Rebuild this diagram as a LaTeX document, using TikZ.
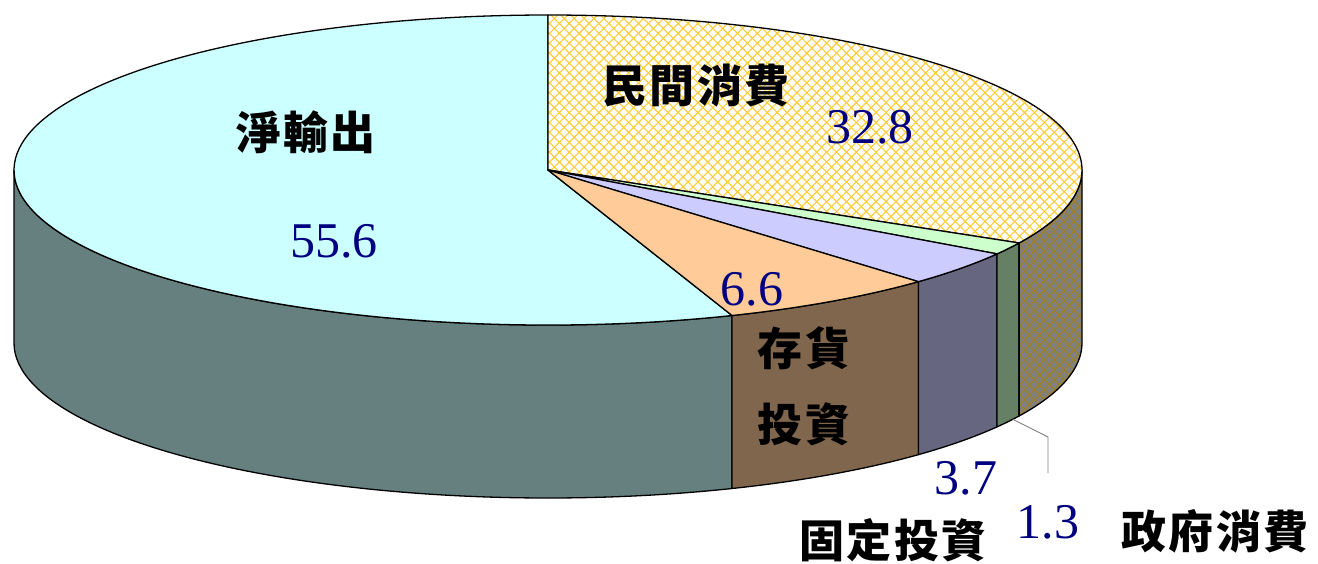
\documentclass[tikz,border=0pt]{standalone}
\usepackage{fontspec}
\setmainfont{Liberation Serif}
\newfontfamily\cjk{Noto Sans CJK TC}[LetterSpace=5]
\usetikzlibrary{patterns.meta}
\definecolor{topNet}{HTML}{CCFFFF}
\definecolor{sideNet}{HTML}{668080}
\definecolor{topInv}{HTML}{FFCC99}
\definecolor{sideInv}{HTML}{80664D}
\definecolor{topFix}{HTML}{CCCCFF}
\definecolor{sideFix}{HTML}{666680}
\definecolor{topGov}{HTML}{CCFFCC}
\definecolor{sideGov}{HTML}{668066}
\definecolor{hatchTop}{HTML}{FFCC33}
\definecolor{sidePriv}{HTML}{808080}
\definecolor{hatchSide}{HTML}{A08020}
\definecolor{numblue}{HTML}{000080}
\definecolor{leader}{HTML}{808080}
\tikzset{
  face/.style={draw=black, line width=1.3pt, line join=round},
  hatchfill/.style 2 args={
    preaction={fill=#1},
    preaction={pattern={Lines[angle=45,distance=7pt,line width=1.1pt]}, pattern color=#2},
    preaction={pattern={Lines[angle=-45,distance=7pt,line width=1.1pt]}, pattern color=#2}},
  cjklabel/.style={inner sep=0pt, font=\cjk\bfseries\fontsize{45}{50}\selectfont, text=black},
  numlabel/.style={inner sep=0pt, font=\fontsize{50}{56}\selectfont, text=numblue},
  leaderline/.style={draw=leader, line width=0.9pt}
}
\begin{document}
\begin{tikzpicture}[x=1pt,y=-1pt]
\useasboundingbox (0,0) rectangle (1318,563);
\def\cx{548}\def\cy{170}\def\rx{534}\def\ry{155}\def\dd{173}
\def\aA{-90}\def\aB{28.08}\def\aC{32.76}\def\aD{46.08}\def\aE{69.84}\def\aF{270}
\coordinate (c) at (\cx,\cy);
\coordinate (pTop) at ({\cx+\rx*cos(\aA)},{\cy+\ry*sin(\aA)});
\coordinate (pR) at ({\cx+\rx},{\cy});
\coordinate (pB) at ({\cx+\rx*cos(\aB)},{\cy+\ry*sin(\aB)});
\coordinate (pC) at ({\cx+\rx*cos(\aC)},{\cy+\ry*sin(\aC)});
\coordinate (pD) at ({\cx+\rx*cos(\aD)},{\cy+\ry*sin(\aD)});
\coordinate (pE) at ({\cx+\rx*cos(\aE)},{\cy+\ry*sin(\aE)});
\coordinate (pL) at ({\cx-\rx},{\cy});
% side faces
\path[face, fill=sideNet] (pE) arc[start angle=\aE, end angle=180, x radius=\rx, y radius=\ry] -- ++(0,\dd) arc[start angle=180, end angle=\aE, x radius=\rx, y radius=\ry] -- cycle;
\path[face, fill=sideInv] (pD) arc[start angle=\aD, end angle=\aE, x radius=\rx, y radius=\ry] -- ++(0,\dd) arc[start angle=\aE, end angle=\aD, x radius=\rx, y radius=\ry] -- cycle;
\path[face, fill=sideFix] (pC) arc[start angle=\aC, end angle=\aD, x radius=\rx, y radius=\ry] -- ++(0,\dd) arc[start angle=\aD, end angle=\aC, x radius=\rx, y radius=\ry] -- cycle;
\path[face, fill=sideGov] (pB) arc[start angle=\aB, end angle=\aC, x radius=\rx, y radius=\ry] -- ++(0,\dd) arc[start angle=\aC, end angle=\aB, x radius=\rx, y radius=\ry] -- cycle;
\path[face, hatchfill={sidePriv}{hatchSide}] (pR) arc[start angle=0, end angle=\aB, x radius=\rx, y radius=\ry] -- ++(0,\dd) arc[start angle=\aB, end angle=0, x radius=\rx, y radius=\ry] -- cycle;
% top wedges
\path[face, fill=topNet] (c) -- (pE) arc[start angle=\aE, end angle=\aF, x radius=\rx, y radius=\ry] -- cycle;
\path[face, hatchfill={white}{hatchTop}] (c) -- (pTop) arc[start angle=\aA, end angle=\aB, x radius=\rx, y radius=\ry] -- cycle;
\path[face, fill=topGov] (c) -- (pB) arc[start angle=\aB, end angle=\aC, x radius=\rx, y radius=\ry] -- cycle;
\path[face, fill=topFix] (c) -- (pC) arc[start angle=\aC, end angle=\aD, x radius=\rx, y radius=\ry] -- cycle;
\path[face, fill=topInv] (c) -- (pD) arc[start angle=\aD, end angle=\aE, x radius=\rx, y radius=\ry] -- cycle;
% leader line for 1.3
\coordinate (ld0) at ({\cx+\rx*cos(29.5)},{\cy+\ry*sin(29.5)+\dd});
\coordinate (ld1) at (1048,437);
\coordinate (ld2) at (1048,473);
\draw[leaderline] (ld0) -- (ld1) -- (ld2);
% labels
\node[cjklabel] (nNet) at (306,132) {淨輸出};
\node[numlabel] (vNet) at (334,241) {55.6};
\node[cjklabel] (nPriv) at (696,86) {民間消費};
\node[numlabel] (vPriv) at (870,127) {32.8};
\node[numlabel] (vInv) at (752,289) {6.6};
\node[cjklabel] (nInvA) at (804,348) {存貨};
\node[cjklabel] (nInvB) at (804,424) {投資};
\node[numlabel] (vFix) at (966,478) {3.7};
\node[cjklabel] (nFix) at (893,540) {固定投資};
\node[numlabel] (vGov) at (1048,522) {1.3};
\node[cjklabel] (nGov) at (1215,531) {政府消費};
\end{tikzpicture}
\end{document}
